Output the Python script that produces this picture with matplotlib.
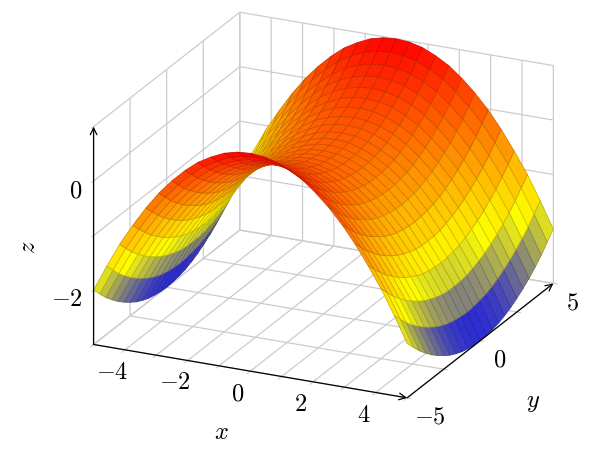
import matplotlib
matplotlib.use('Agg')
import matplotlib.pyplot as plt
from matplotlib.colors import LinearSegmentedColormap
from mpl_toolkits.mplot3d import proj3d
import numpy as np

x_samples = [-5, -4.58, -4.17, -3.75, -3.33, -2.92, -2.5, -2.08, -1.67, -1.25, -0.83, -0.42, 0,
             0.42, 0.83, 1.25, 1.67, 2.08, 2.5, 2.92, 3.33, 3.75, 4.17, 4.58, 5]
y_samples = x_samples

# one quarter of the surface: rows y=-5..0, columns x=-5..0
z_quarter = [
    [-2.00, -1.52, -1.08, -0.69, -0.33, -0.02, 0.25, 0.48, 0.67, 0.81, 0.92, 0.98, 1.00],
    [-2.16, -1.68, -1.24, -0.85, -0.49, -0.18, 0.09, 0.32, 0.51, 0.65, 0.76, 0.82, 0.84],
    [-2.31, -1.83, -1.39, -0.99, -0.64, -0.33, -0.06, 0.17, 0.36, 0.51, 0.61, 0.67, 0.69],
    [-2.44, -1.96, -1.52, -1.13, -0.77, -0.46, -0.19, 0.04, 0.23, 0.38, 0.48, 0.54, 0.56],
    [-2.56, -2.08, -1.64, -1.24, -0.89, -0.58, -0.31, -0.08, 0.11, 0.26, 0.36, 0.42, 0.44],
    [-2.66, -2.18, -1.74, -1.35, -0.99, -0.68, -0.41, -0.18, 0.01, 0.15, 0.26, 0.32, 0.34],
    [-2.75, -2.27, -1.83, -1.44, -1.08, -0.77, -0.50, -0.27, -0.08, 0.06, 0.17, 0.23, 0.25],
    [-2.83, -2.35, -1.91, -1.51, -1.16, -0.85, -0.58, -0.35, -0.16, -0.01, 0.09, 0.15, 0.17],
    [-2.89, -2.41, -1.97, -1.58, -1.22, -0.91, -0.64, -0.41, -0.22, -0.08, 0.03, 0.09, 0.11],
    [-2.94, -2.46, -2.02, -1.63, -1.27, -0.96, -0.69, -0.46, -0.27, -0.13, -0.02, 0.04, 0.06],
    [-2.97, -2.49, -2.06, -1.66, -1.31, -0.99, -0.72, -0.49, -0.31, -0.16, -0.06, 0.01, 0.03],
    [-2.99, -2.51, -2.08, -1.68, -1.33, -1.01, -0.74, -0.51, -0.33, -0.18, -0.08, -0.01, 0.01],
    [-3.00, -2.52, -2.08, -1.69, -1.33, -1.02, -0.75, -0.52, -0.33, -0.19, -0.08, -0.02, 0.00],
]

x_ticks = [-5, -4, -3, -2, -1, 0, 1, 2, 3, 4, 5]
y_ticks = [-5, -2.5, 0, 2.5, 5]
z_ticks = [-3, -2, -1, 0, 1]
x_labels = [-4, -2, 0, 2, 4]
y_labels = [-5, 0, 5]
z_labels = [-2, 0]

plt.rcParams['mathtext.fontset'] = 'cm'
FS = 17.5
GRID = '#cccccc'

# surface is symmetric in x and y, so mirror the quarter
z_half = np.array(z_quarter)
z_half = np.hstack([z_half, z_half[:, -2::-1]])
Z = np.vstack([z_half, z_half[-2::-1]])
X, Y = np.meshgrid(x_samples, y_samples)

hot = LinearSegmentedColormap.from_list('hot2', ['#0000ff', '#ffff00', '#ff8000', '#ff0000'])
mean_z = (Z[:-1, :-1] + Z[1:, :-1] + Z[:-1, 1:] + Z[1:, 1:]) / 4
face_cols = hot((mean_z + 3) / 4)
edge_cols = face_cols.copy()
edge_cols[:, :, :3] *= 0.8

W = 526.5
fig = plt.figure(figsize=(6, 4.59), dpi=100)
ax = fig.add_axes([53.1 / 600, -16.4 / 459, W / 600, W / 459], projection='3d')
ax.set_proj_type('ortho')
ax.view_init(elev=21.4, azim=-65)
ax.set_box_aspect((346, 346, 234))
ax.set_xlim(-5, 5, view_margin=0)
ax.set_ylim(-5, 5, view_margin=0)
ax.set_zlim(-3, 1, view_margin=0)
ax.patch.set_alpha(0)

surf = ax.plot_surface(X, Y, Z, rstride=1, cstride=1, facecolors=face_cols, shade=False, linewidth=0.55)
surf.set_edgecolor(edge_cols.reshape(-1, 4))

ax.set_xticks(x_ticks)
ax.set_yticks(y_ticks)
ax.set_zticks(z_ticks)
ax.set_xticklabels([''] * len(x_ticks))
ax.set_yticklabels([''] * len(y_ticks))
ax.set_zticklabels([''] * len(z_ticks))
ax.zaxis.set_ticks_position('lower')
ax.tick_params(axis='both', color=GRID, width=0.9)
ax.tick_params(axis='z', color=GRID, width=0.9)
for axis in (ax.xaxis, ax.yaxis, ax.zaxis):
    axis.set_pane_color((1, 1, 1, 0))
    axis.pane.set_edgecolor((1, 1, 1, 0))
    axis.line.set_color((0, 0, 0, 0))
    axis._axinfo['grid'].update(color=GRID, linewidth=0.9)
    axis._axinfo['tick'].update(inward_factor=0.15, outward_factor=0.15)
ax.xaxis._axinfo['tick'].update(inward_factor=0.25, outward_factor=0.25)


def to_2d(x, y, z):
    px, py, _ = proj3d.proj_transform(x, y, z, ax.get_proj())
    return px, py


def put_text(x, y, z, txt, dx, dy, **kw):
    # dx, dy in pixels from the projected point, y going down as in the picture
    ax.annotate(txt, xy=to_2d(x, y, z), xytext=(dx * 0.72, -dy * 0.72), textcoords='offset points',
                fontsize=FS, ha=kw.pop('ha', 'center'), va='center', zorder=100, **kw)


def arrow(start, end):
    ax.annotate('', xy=to_2d(*end), xytext=to_2d(*start), zorder=100,
                arrowprops=dict(arrowstyle='->,head_length=0.4,head_width=0.2', color='black',
                                lw=0.9, shrinkA=0, shrinkB=0, mutation_scale=12))


fig.canvas.draw()

arrow((-5, -5, -3), (5, -5, -3))
arrow((5, -5, -3), (5, 5, -3))
arrow((-5, -5, -3), (-5, -5, 1))

for v in x_labels:
    put_text(v, -5, -3, '$%d$' % v, -12.5, 22)
for v in y_labels:
    put_text(5, v, -3, '$%d$' % v, 23 if v < 0 else 19, 19)
for v in z_labels:
    put_text(-5, -5, v, '$%d$' % v, -11, 9, ha='right')

put_text(0, -5, -3, '$x$', -29, 61)
put_text(5, 0, -3, '$y$', 53, 61)
put_text(-5, -5, -1, '$z$', -66, 12, rotation=90)

fig.savefig('out.png', dpi=100)
